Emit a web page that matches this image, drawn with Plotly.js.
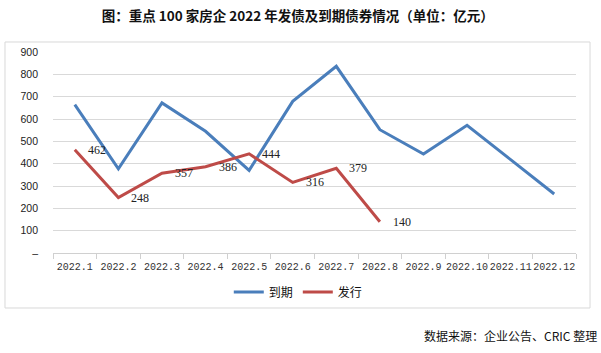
<!DOCTYPE html>
<html>
<head>
<meta charset="utf-8">
<script src="https://cdn.plot.ly/plotly-3.0.1.min.js"></script>
<style>
  html, body { margin: 0; padding: 0; background: #fff; }
  #chart { width: 601px; height: 353px; }
</style>
</head>
<body>
<div id="chart"></div>
<script>
const months = ["2022.1","2022.2","2022.3","2022.4","2022.5","2022.6","2022.7","2022.8","2022.9","2022.10","2022.11","2022.12"];
const maturity = [664, 377, 672, 545, 370, 679, 836, 552, 443, 572, 418, 264];
const issuance = [462, 248, 357, 386, 444, 316, 379, 140];
const issuanceMonths = months.slice(0, issuance.length);
const yTickVals = [0, 100, 200, 300, 400, 500, 600, 700, 800, 900];
const yTickText = ["–", "100", "200", "300", "400", "500", "600", "700", "800", "900"];

const traces = [
  {
    x: months, y: maturity, name: "到期", type: "scatter", mode: "lines",
    line: { color: "#4A7EBB", width: 3 }
  },
  {
    x: issuanceMonths, y: issuance, name: "发行", type: "scatter", mode: "lines",
    line: { color: "#BE4B48", width: 3 }
  }
];

// on a category axis, annotations are placed by category index
const labelAnnotations = issuance.map((v, i) => ({
  x: months.indexOf(issuanceMonths[i]), y: v, xref: "x", yref: "y",
  text: String(v), showarrow: false,
  xanchor: "left", yanchor: "middle", xshift: 11,
  font: { family: "Liberation Serif, serif", size: 12, color: "#222" }
}));

const layout = {
  width: 601, height: 353,
  margin: { l: 53, r: 25, t: 52, b: 100 },
  paper_bgcolor: "#ffffff", plot_bgcolor: "#ffffff",
  title: {
    text: "<b>图：重点 100 家房企 2022 年发债及到期债券情况（单位：亿元）</b>",
    font: { family: "Noto Sans CJK SC, sans-serif", size: 13.5, color: "#111" },
    x: 0.468, xanchor: "center", y: 0.953, yanchor: "middle", xref: "paper", yref: "container"
  },
  xaxis: {
    type: "category", categoryorder: "array", categoryarray: months,
    range: [-0.5, months.length - 0.5], autorange: false,
    tickson: "boundaries", ticks: "outside", ticklen: 5,
    tickcolor: "#d0d0d0", showline: true, linecolor: "#d0d0d0", linewidth: 1,
    showgrid: false, zeroline: false, ticklabelstandoff: 4,
    tickfont: { family: "Liberation Mono, monospace", size: 10, color: "#333" },
    tickangle: 0, fixedrange: true
  },
  yaxis: {
    range: [0, 900], autorange: false, tickvals: yTickVals, ticktext: yTickText,
    showgrid: true, gridcolor: "#d9d9d9", gridwidth: 1, zeroline: false,
    showline: false, ticks: "", ticklabelstandoff: 14,
    tickfont: { family: "Liberation Sans, Arial, sans-serif", size: 10.5, color: "#222" },
    fixedrange: true
  },
  showlegend: true,
  legend: {
    orientation: "h", x: 0.469, xanchor: "center", y: -0.194, yanchor: "middle",
    font: { family: "Noto Sans CJK SC, sans-serif", size: 12, color: "#111" },
    itemwidth: 30, tracegroupgap: 0, bgcolor: "rgba(0,0,0,0)"
  },
  shapes: [
    {
      type: "rect", xref: "paper", yref: "paper",
      x0: -0.0918, x1: 1.0268, y0: -0.2736, y1: 1.0498,
      line: { color: "#d9d9d9", width: 1 }, fillcolor: "rgba(0,0,0,0)", layer: "below"
    }
  ],
  annotations: labelAnnotations.concat([
    {
      text: "数据来源：企业公告、CRIC 整理", xref: "paper", yref: "paper",
      x: (599 - 53) / 523, y: (253 - 335) / 201, xanchor: "right", yanchor: "middle",
      showarrow: false,
      font: { family: "Noto Sans CJK SC, sans-serif", size: 12, color: "#111" }
    }
  ])
};

Plotly.newPlot("chart", traces, layout, { displayModeBar: false, staticPlot: true });
</script>
</body>
</html>
